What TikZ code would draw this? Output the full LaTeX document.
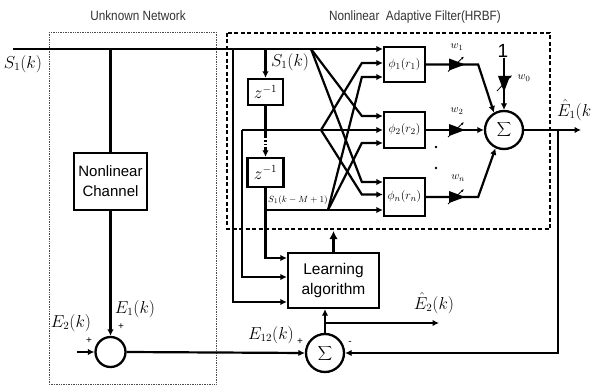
\documentclass[tikz,border=0pt]{standalone}
\usepackage[no-math]{fontspec}
\setmainfont{Liberation Sans}
\newfontfamily\narrowfont[FakeStretch=0.87]{Liberation Sans}
\usetikzlibrary{arrows.meta,calc}
\newcommand\wgtH[1]{%
  \fill #1 ++(-7,-6) -- ++(16,6) -- ++(-16,6) -- cycle;
  \draw[line width=0.8pt,-{Latex[length=3pt,width=2.5pt]}] #1 ++(-8,7) -- ++(16,-15);}
\newcommand\wgtV[1]{%
  \fill #1 ++(-6,-7) -- ++(12,0) -- ++(-6,16) -- cycle;
  \draw[line width=0.8pt,-{Latex[length=3pt,width=2.5pt]}] #1 ++(-7,8) -- ++(15,-16);}
\begin{document}
\begin{tikzpicture}[x=1pt,y=-1pt,
  wire/.style={line width=2.2pt},
  arr/.style={wire,-{Latex[length=6.5pt,width=6.5pt]}},
  blk/.style={draw,line width=2.3pt,rectangle,inner sep=0pt,align=center},
  sumnode/.style={draw,line width=2.3pt,circle,inner sep=0pt,minimum size=38pt,font=\fontsize{17}{17}\selectfont},
  mlab/.style={font=\fontsize{16}{16}\selectfont,inner sep=0pt},
  slab/.style={font=\fontsize{11}{11}\selectfont,inner sep=0pt},
  sign/.style={font=\fontsize{10}{10}\selectfont,inner sep=0pt},
  title/.style={font=\narrowfont\fontsize{13.5}{14}\selectfont,text=black!80,inner sep=0pt},
]
\useasboundingbox (0,0) rectangle (592,385);
% region frames
\draw[densely dotted, black!70, line width=0.7pt] (49,32) rectangle (216,384);
\draw[line width=1.5pt, dash pattern=on 4pt off 2.5pt] (227,33) rectangle (550,229);
\node[title] (tun) at (138,16) {Unknown Network};
\node[title] (thr) at (415,17) {Nonlinear\ \ Adaptive Filter(HRBF)};

% blocks
\node[blk, minimum width=73pt, minimum height=57pt, font=\fontsize{15}{20}\selectfont] (chan) at (110.5,181.5) {Nonlinear\\Channel};
\node[draw, line width=2.3pt, circle, minimum size=30pt, inner sep=0pt] (add1) at (110.5,352) {};
\node[sumnode] (sum2) at (325,353) {$\displaystyle\sum$};
\node[blk, minimum width=91pt, minimum height=55pt, font=\fontsize{15.5}{20}\selectfont] (learn) at (333.5,280.5) {Learning\\algorithm};
\node[blk, minimum width=35pt, minimum height=26pt, font=\fontsize{16}{16}\selectfont] (z1) at (265.5,92) {$z^{-1}$};
\node[blk, minimum width=36pt, minimum height=29pt, font=\fontsize{16}{16}\selectfont] (z2) at (265.5,172.5) {$z^{-1}$};
\node[blk, minimum width=41pt, minimum height=35pt, font=\fontsize{13}{13}\selectfont] (phi1) at (404.5,64.5) {$\phi_1(r_1)$};
\node[blk, minimum width=41pt, minimum height=36pt, font=\fontsize{13}{13}\selectfont] (phi2) at (404.5,130) {$\phi_2(r_2)$};
\node[blk, minimum width=41pt, minimum height=38pt, font=\fontsize{13}{13}\selectfont] (phin) at (404.5,197) {$\phi_n(r_n)$};
\node[sumnode] (sum1) at (504,130) {$\displaystyle\sum$};
\node[font=\fontsize{19}{19}\selectfont, inner sep=0pt] (one) at (503,51) {1};

% coordinates
\coordinate (sin) at (13,49);
\coordinate (tapchan) at (110.5,49);
\coordinate (tapL) at (233,49);
\coordinate (tapz) at (265.5,49);
\coordinate (fan1) at (311,49);
\coordinate (m0) at (242,130);
\coordinate (fan2) at (321,130);
\coordinate (l0) at (265.5,210);
\coordinate (fan3) at (328,210);
\coordinate (zd1) at (265.5,137);
\coordinate (zd2) at (265.5,149);
\coordinate (e2in) at (77,352);
\coordinate (br2) at (325,323);
\coordinate (e2out) at (439,323);
\coordinate (hb) at (333.5,231);
\coordinate (fb1) at (558,130);
\coordinate (eout) at (581,130);
\path (phi1.west) ++(0,-15.5) coordinate (i11) (phi1.west) ++(0,-1.5) coordinate (i12) (phi1.west) ++(0,12.5) coordinate (i13);
\path (phi2.west) ++(0,-14) coordinate (i21) (phi2.west) ++(0,0) coordinate (i22) (phi2.west) ++(0,13) coordinate (i23);
\path (phin.west) ++(0,-15) coordinate (in1) (phin.west) ++(0,-2.5) coordinate (in2) (phin.west) ++(0,13) coordinate (in3);
\path (learn.west) ++(0,-22.5) coordinate (lw1) (learn.west) ++(0,-3.5) coordinate (lw2) (learn.west) ++(0,21.5) coordinate (lw3);
\coordinate (o1) at ($(phi1.east)+(52,0)$);
\coordinate (on) at ($(phin.east)+(52,0)$);

% unknown network path
\draw[arr] (sin) -- (i11);
\draw[wire] (tapchan) -- (chan.north);
\draw[arr] (chan.south) -- (add1.north);
\draw[arr] (e2in) -- (add1.west);
\draw[arr] (add1.east) -- (sum2.west);

% delay line
\draw[arr] (tapz) -- (z1.north);
\draw[wire] (z1.south) -- (zd1);
\draw[wire, dash pattern=on 1.5pt off 2pt] (zd1) -- (zd2);
\draw[arr] (zd2) -- (z2.north);
\draw[arr] (z2.south) |- (lw1);
\draw[arr] (l0) -- (in3);
\draw[arr] (m0) -- (i22);
\draw[arr] (m0) |- (lw2);
\draw[arr] (tapL) |- (lw3);

% crossing connections
\draw[arr] (fan1) -- ($(i21)+(-21,0)$) -- (i21);
\draw[arr] (fan1) -- ($(in1)+(-21,0)$) -- (in1);
\draw[arr] (fan2) -- ($(i12)+(-21,0)$) -- (i12);
\draw[arr] (fan2) -- ($(in2)+(-21,0)$) -- (in2);
\draw[arr] (fan3) -- ($(i13)+(-21,0)$) -- (i13);
\draw[arr] (fan3) -- ($(i23)+(-21,0)$) -- (i23);

% outputs of phi units
\draw[arr] (phi1.east) -- (o1) -- (sum1.120);
\draw[arr] (phi2.east) -- (sum1.west);
\draw[arr] (phin.east) -- (on) -- (sum1.245);
\draw[arr] (one.south -| sum1.north) -- (sum1.north);
\wgtH{(456,64.5)}
\wgtH{(456,130)}
\wgtH{(456,197)}
\wgtV{(504,83)}
\fill (436,147) circle (1.4);
\fill (436,168) circle (1.4);

% output and feedback
\draw[arr] (sum1.east) -- (eout);
\draw[arr] (fb1) |- (sum2.east);
\draw[arr] (sum2.north) -- (sum2.north |- learn.south);
\draw[arr] (br2) -- (e2out);
\draw[line width=3pt, -{Latex[length=8pt,width=8.5pt]}] (learn.north) -- (hb);

% labels
\node[mlab] (ls1) at (23,64) {$S_1(k)$};
\node[mlab] (ls1b) at (290,62) {$S_1(k)$};
\node[mlab] (le1) at (135,309) {$E_1(k)$};
\node[mlab] (le2) at (71,323) {$E_2(k)$};
\node[mlab] (le12) at (271,335) {$E_{12}(k)$};
\node[mlab] (lhe2) at (434,303) {$\hat{E}_2(k)$};
\node[mlab, anchor=west] (lhe1) at (557,110) {$\hat{E}_1(k)$};
\node[font=\fontsize{9.5}{9.5}\selectfont, inner sep=0pt, anchor=west] (lsm) at (268,200) {$S_1(k-M+1)$};
\node[slab] (lw1t) at (457,47) {$w_1$};
\node[slab] (lw2t) at (457,111) {$w_2$};
\node[slab] (lwnt) at (458,178) {$w_n$};
\node[slab] (lw0t) at (524,78) {$w_0$};
\node[sign] (p1) at (121,327) {+};
\node[sign] (p2) at (89,341) {+};
\node[sign] (p3) at (300,342) {+};
\node[sign] (m1) at (350,343) {-};
\end{tikzpicture}
\end{document}
